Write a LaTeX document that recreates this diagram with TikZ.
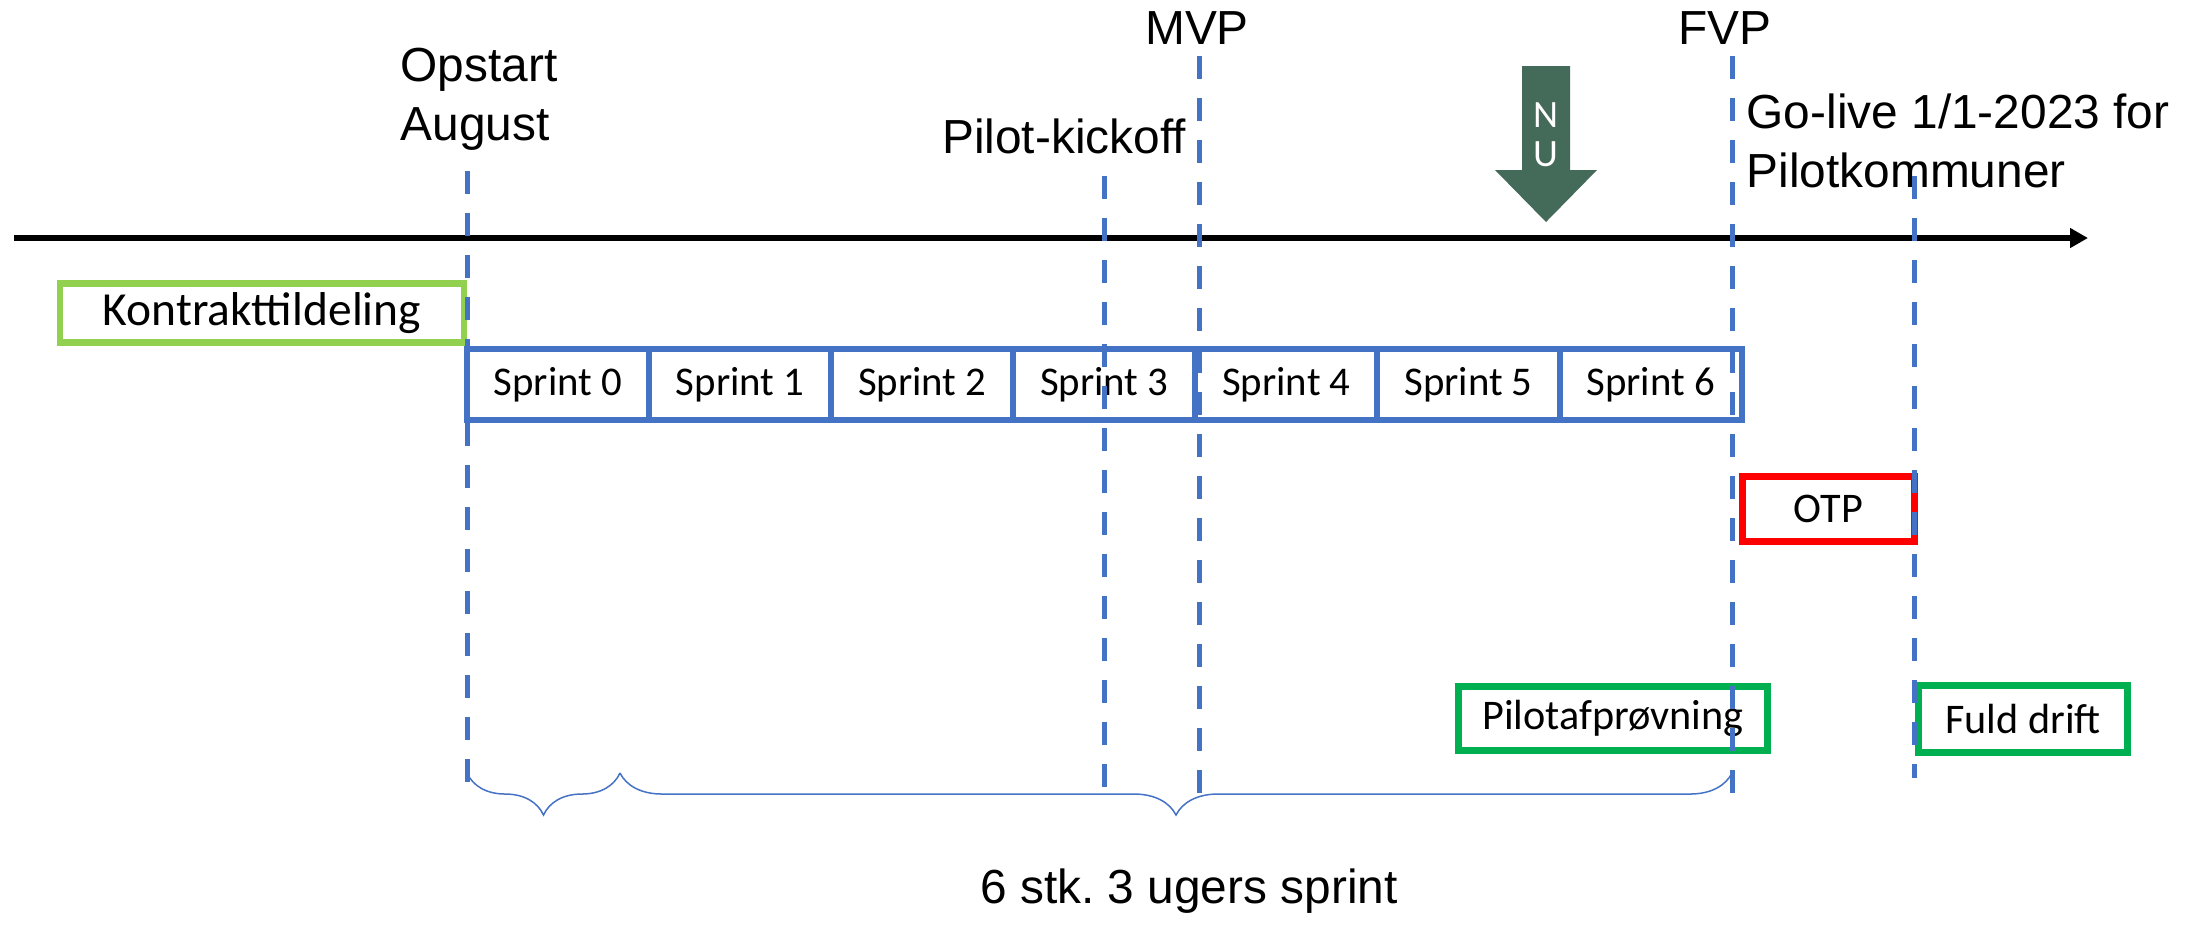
\documentclass[tikz,border=0pt]{standalone}
\usepackage{fontspec}
\setmainfont{Liberation Sans}
\newfontfamily\calibri{Carlito}
\usepackage{tikz}
\usetikzlibrary{arrows.meta,decorations.pathreplacing,positioning}
\frenchspacing

\definecolor{sprintblue}{RGB}{68,114,196}
\definecolor{lightgreen}{RGB}{146,208,80}
\definecolor{phasegreen}{RGB}{0,176,80}
\definecolor{nugreen}{RGB}{68,106,90}

\begin{document}
\begin{tikzpicture}[x=0.01cm,y=-0.01cm,
%defines
  sprint/.style={rectangle,draw=sprintblue,line width=0.06cm,inner sep=0pt,outer sep=0pt,
    minimum width=1.82cm,minimum height=0.71cm,font=\calibri\fontsize{11.6}{14}\selectfont},
  phase/.style={rectangle,draw=phasegreen,line width=0.065cm,inner sep=0pt,
    minimum height=0.65cm,font=\calibri\fontsize{12}{14}\selectfont},
  milestone/.style={draw=sprintblue,line width=0.05cm,dash pattern=on 0.23cm off 0.19cm},
  heading/.style={inner sep=0pt,font=\fontsize{13.6}{16.8}\selectfont},
  sprintbrace/.style={draw=sprintblue,line width=0.015cm,decorate,
    decoration={brace,mirror,amplitude=0.42cm}}]
\useasboundingbox (0,0) rectangle (2194,926);

% time axis
\coordinate (axis start) at (14,238);
\coordinate (axis end) at (2088,238);
\draw[line width=0.06cm,-{Triangle[length=0.18cm,width=0.19cm]}] (axis start) -- (axis end);

% now marker
\fill[nugreen] (1522,66) -- (1570,66) -- (1570,170) -- (1597,170) -- (1546,222)
  -- (1495,170) -- (1522,170) -- cycle;
\node[text=white,align=center,font=\calibri\fontsize{11}{11}\selectfont] (nu) at (1546,135) {N\\U};

% boxes
\node[phase,draw=lightgreen,minimum width=4.04cm,minimum height=0.59cm,
  font=\calibri\fontsize{13.5}{16}\selectfont] (kontrakt) at (262,313) {Kontrakttildeling};
\node[sprint] (sprint 0) at (558,384.5) {Sprint 0};
\foreach \i [count=\j from 0] in {1,...,6}
  \node[sprint,right=0pt of sprint \j] (sprint \i) {Sprint \i};
\node[phase,draw=red,minimum width=1.72cm] (otp) at (1828.5,509) {OTP};
\node[phase,minimum width=3.09cm,minimum height=0.64cm] (pilot) at (1613,718.5) {Pilotafprøvning};
\node[phase,minimum width=2.09cm,minimum height=0.67cm] (fuld) at (2023,719) {Fuld drift};

% milestones
\node[heading,anchor=west,align=left] (opstart) at (400,99) {Opstart\\August};
\node[heading] (kickoff) at (1064,136) {Pilot-kickoff};
\node[heading] (mvp) at (1197,28) {MVP};
\node[heading] (fvp) at (1725,28) {FVP};
\node[heading,anchor=west,align=left] (golive) at (1746,141) {Go-live 1/1-2023 for\\Pilotkommuner};
\foreach \name/\x/\top/\bot in {opstart/467/171/792,kickoff/1104/176/792,mvp/1199/56/811,
  fvp/1732/56/800,golive/1914/176/778}{
  \coordinate (\name top) at (\x,\top);
  \coordinate (\name bottom) at (\x,\bot);
  \draw[milestone] (\name top) -- (\name bottom);
}

% sprint braces
\coordinate (brace a) at (467,773);
\coordinate (brace b) at (620,773);
\coordinate (brace c) at (1732,773);
\draw[sprintbrace] (brace a) -- (brace b);
\draw[sprintbrace] (brace b) -- (brace c);
\node[heading] (duration) at (1189,891) {6 stk. 3 ugers sprint};
\end{tikzpicture}
\end{document}
